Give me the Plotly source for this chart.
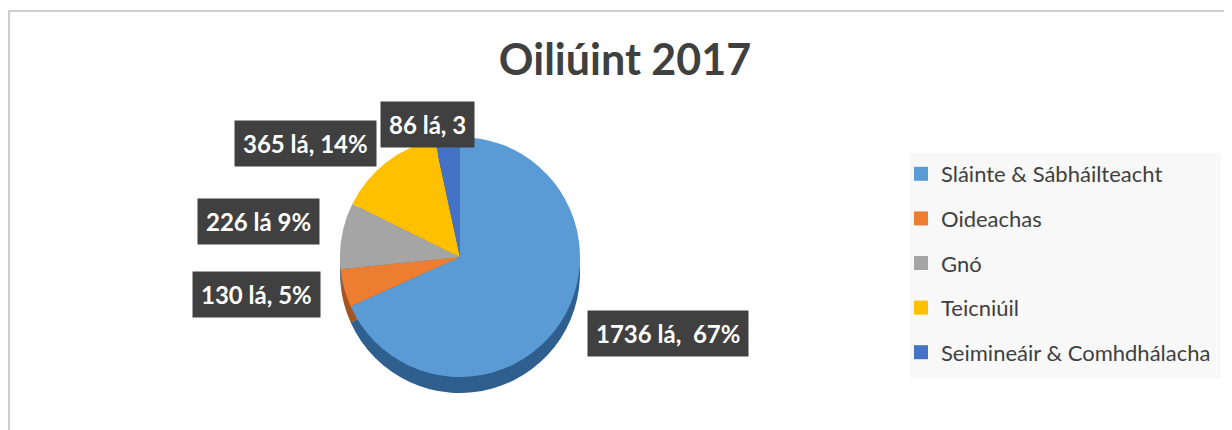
import plotly.graph_objects as go

# ---- data ----
categories = ["Sláinte & Sábháilteacht", "Oideachas", "Gnó", "Teicniúil", "Seimineáir & Comhdhálacha"]
days = [1736, 130, 226, 365, 86]
label_texts = ["1736 lá,  67%", "130 lá, 5%", "226 lá 9%", "365 lá, 14%", "86 lá, 3"]
colors = ["#5B9BD5", "#ED7D31", "#A5A5A5", "#FFC000", "#4472C4"]
side_colors = ["#2F5F8E", "#A4541E", "#6E6E6E", "#B38600", "#2C4C86"]
title_text = "Oiliúint 2017"

W, H = 1232, 430
OX, OY = 8, 8   # page body margin
FONT = "Lato"

def px(x):
    return (x - OX) / W

def py(y):
    return 1 - (y - OY) / H

fig = go.Figure()

# pie geometry (page pixels)
cx, cy, r, depth = 460, 257, 120, 16

# depth (side) of the pie
fig.add_trace(go.Pie(
    labels=categories, values=days, sort=False, direction="clockwise", rotation=0,
    marker=dict(colors=side_colors, line=dict(width=0)),
    textinfo="none", hoverinfo="skip", showlegend=False,
    domain=dict(x=[px(cx - r), px(cx + r)], y=[py(cy + depth + r), py(cy + depth - r)]),
))
# top of the pie
fig.add_trace(go.Pie(
    labels=categories, values=days, sort=False, direction="clockwise", rotation=0,
    marker=dict(colors=colors, line=dict(width=0)),
    textinfo="none", showlegend=False,
    domain=dict(x=[px(cx - r), px(cx + r)], y=[py(cy + r), py(cy - r)]),
))

# legend entries
for i, (cat, col) in enumerate(zip(categories, colors)):
    fig.add_trace(go.Scatter(
        x=[None], y=[None], mode="markers", name=cat,
        marker=dict(symbol="square", size=14, color=col),
        legendgroup=f"g{i}", showlegend=True,
    ))

# data label boxes (centers in page pixels)
label_pos = [(668, 333), (256, 294), (258, 221), (305, 144), (428, 124)]
for txt, (lx, ly) in zip(label_texts, label_pos):
    fig.add_annotation(
        x=px(lx), y=py(ly), xref="paper", yref="paper", text=f"<b>{txt}</b>",
        showarrow=False, font=dict(family=FONT, size=24, color="white"),
        bgcolor="#404040", borderpad=8, xanchor="center", yanchor="middle",
    )

fig.update_layout(
    width=W, height=H,
    margin=dict(l=0, r=0, t=0, b=0),
    paper_bgcolor="white", plot_bgcolor="white",
    font=dict(family=FONT, color="#404040"),
    title=dict(text=f"<b>{title_text}</b>", x=px(625), y=py(60), xanchor="center", yanchor="middle",
               xref="paper", yref="container", font=dict(family=FONT, size=43, color="#404040")),
    xaxis=dict(visible=False), yaxis=dict(visible=False),
    legend=dict(x=px(901), y=py(153), xanchor="left", yanchor="top", bgcolor="rgba(0,0,0,0)",
                font=dict(family=FONT, size=22, color="#404040"), tracegroupgap=13,
                itemclick=False),
    shapes=[
        dict(type="rect", xref="paper", yref="paper", x0=px(9), x1=1.02, y0=-0.05, y1=py(11),
             line=dict(color="#BFBFBF", width=1.5), fillcolor="rgba(0,0,0,0)", layer="below"),
        dict(type="rect", xref="paper", yref="paper", x0=px(910), x1=px(1221), y0=py(378), y1=py(153),
             line=dict(width=0), fillcolor="#F8F8F8", layer="below"),
    ],
)

fig.write_html("out.html")
